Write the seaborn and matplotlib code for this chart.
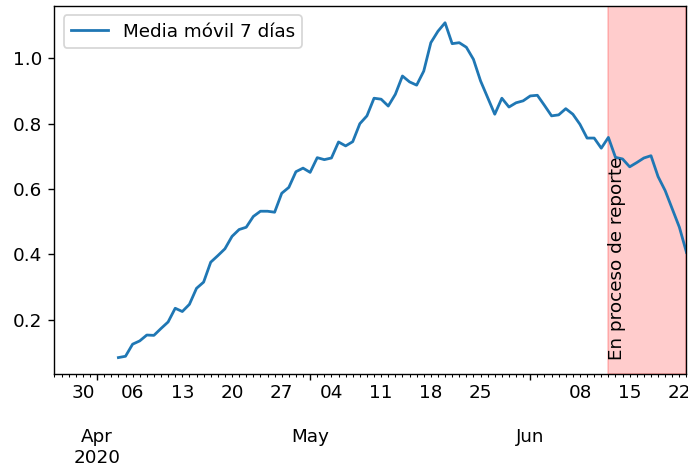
import matplotlib
matplotlib.use("Agg")
import matplotlib.pyplot as plt
import matplotlib.dates as mdates
import matplotlib.ticker as mticker
import pandas as pd
import seaborn as sns

# ---- data ----
first_date = "2020-04-04"
last_date = "2020-06-23"
media_movil = [
    0.084, 0.088, 0.125, 0.135, 0.153, 0.152, 0.173, 0.193, 0.235, 0.225,
    0.247, 0.296, 0.315, 0.376, 0.396, 0.417, 0.455, 0.476, 0.483, 0.516,
    0.532, 0.532, 0.529, 0.587, 0.605, 0.653, 0.664, 0.651, 0.696, 0.690,
    0.695, 0.744, 0.732, 0.745, 0.800, 0.824, 0.878, 0.875, 0.854, 0.890,
    0.946, 0.928, 0.918, 0.961, 1.048, 1.083, 1.109, 1.045, 1.048, 1.034,
    0.997, 0.931, 0.880, 0.829, 0.878, 0.851, 0.864, 0.870, 0.885, 0.887,
    0.856, 0.824, 0.827, 0.846, 0.829, 0.798, 0.756, 0.756, 0.725, 0.758,
    0.697, 0.692, 0.668, 0.681, 0.695, 0.702, 0.638, 0.595, 0.539, 0.483,
    0.406,
]
series_label = "Media móvil 7 días"
span_start = "2020-06-12"
span_end = "2020-06-23"
span_text = "En proceso de reporte"
x_start = "2020-03-26"
x_end = "2020-06-23"
month_starts = ["2020-04-01", "2020-05-01", "2020-06-01"]
month_labels = ["\n\nApr\n2020", "\n\nMay", "\n\nJun"]

dates = pd.date_range(first_date, last_date, freq="D")
df = pd.DataFrame({"fecha": dates, "valor": media_movil})

plt.rcParams["font.family"] = ["DejaVu Sans"]
plt.rcParams["font.size"] = 10.6
fig, ax = plt.subplots(figsize=(688 / 125, 474 / 125), dpi=125)
fig.subplots_adjust(left=0.0792, right=0.9978, top=0.9873, bottom=0.2103)

sns.lineplot(data=df, x="fecha", y="valor", ax=ax, color="#1f77b4",
             linewidth=1.6, label=series_label)
ax.axvspan(pd.Timestamp(span_start), pd.Timestamp(span_end), color="red", alpha=0.2)
ax.text(pd.Timestamp(span_start), 0.076, span_text, rotation=90,
        ha="left", va="bottom", color="black")
ax.set_xlim(pd.Timestamp(x_start), pd.Timestamp(x_end))

ax.xaxis.set_major_locator(mticker.FixedLocator(mdates.date2num(pd.to_datetime(month_starts))))
ax.xaxis.set_major_formatter(mticker.FixedFormatter(month_labels))
ax.xaxis.set_minor_locator(mdates.DayLocator())


def minor_fmt(x, pos):
    d = mdates.num2date(x)
    return d.strftime("%d") if d.weekday() == 0 else ""


ax.xaxis.set_minor_formatter(mticker.FuncFormatter(minor_fmt))
ax.set_xlabel("")
ax.set_ylabel("")
ax.legend(loc="upper left")

fig.savefig("out.png", dpi=125)
